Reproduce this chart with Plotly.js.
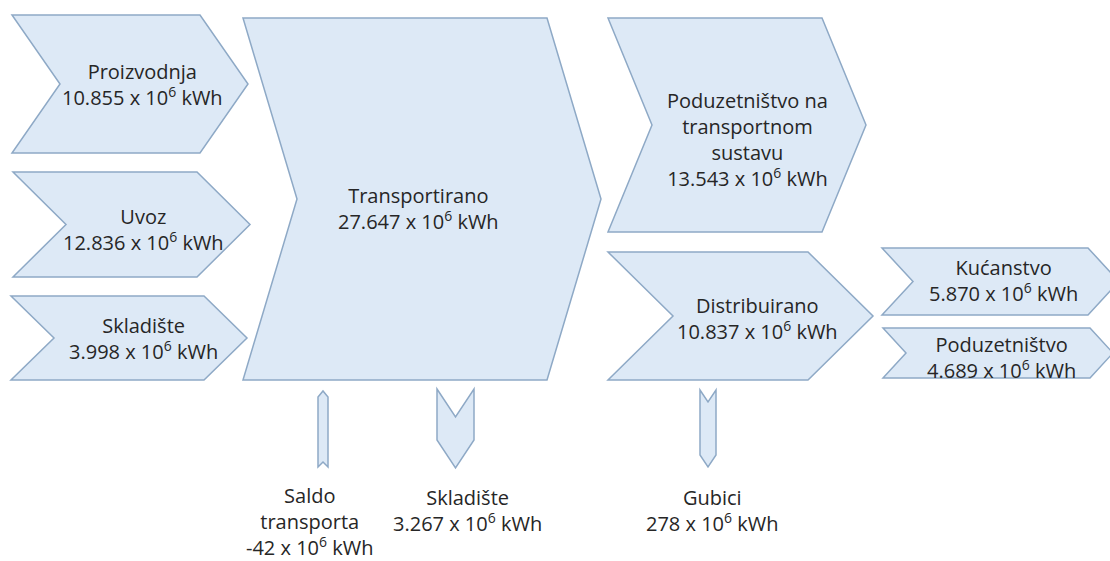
<!DOCTYPE html>
<html>
<head>
<meta charset="utf-8">
<script src="https://cdn.plot.ly/plotly-3.0.1.min.js"></script>
<style>html,body{margin:0;padding:0;background:#fff;}#chart{width:1110px;height:561px;}</style>
</head>
<body>
<div id="chart"></div>
<script>
// ---- data ----
var nodeKeys   = ["proizvodnja", "uvoz", "skladisteIn", "transportirano", "poduzetnistvoTS", "distribuirano", "kucanstvo", "poduzetnistvo", "saldo", "skladisteOut", "gubici"];
var nodeLabels = ["Proizvodnja", "Uvoz", "Skladište", "Transportirano", "Poduzetništvo na<br>transportnom<br>sustavu", "Distribuirano", "Kućanstvo", "Poduzetništvo", "Saldo<br>transporta", "Skladište", "Gubici"];
var nodeValues = [10855, 12836, 3998, 27647, 13543, 10837, 5870, 4689, -42, 3267, 278]; // x 10^6 kWh
var unitLabel  = " x 10<sup>6</sup> kWh";

// ---- layout geometry (pixel space of the diagram) ----
var geom = {
  proizvodnja:     {dir: "right", x0: 12,  x1: 200,  y0: 15,  y1: 153, d: 48, tx: 142,  ty: 84},
  uvoz:            {dir: "right", x0: 13,  x1: 197,  y0: 172, y1: 277, d: 53, tx: 143,  ty: 229},
  skladisteIn:     {dir: "right", x0: 11,  x1: 204,  y0: 296, y1: 380, d: 43, tx: 143,  ty: 338},
  transportirano:  {dir: "right", x0: 243, x1: 547,  y0: 18,  y1: 380, d: 54, tx: 418,  ty: 208},
  poduzetnistvoTS: {dir: "right", x0: 608, x1: 822,  y0: 18,  y1: 232, d: 44, tx: 747,  ty: 139},
  distribuirano:   {dir: "right", x0: 608, x1: 808,  y0: 252, y1: 380, d: 65, tx: 757,  ty: 318},
  kucanstvo:       {dir: "right", x0: 882, x1: 1088, y0: 248, y1: 315, d: 31, tx: 1003, ty: 280},
  poduzetnistvo:   {dir: "right", x0: 883, x1: 1090, y0: 328, y1: 378, d: 23, tx: 1001, ty: 357},
  saldo:           {dir: "up",    x0: 318, x1: 328,  y0: 391, y1: 467, d: 5,  tx: 310,  ty: 521},
  skladisteOut:    {dir: "down",  x0: 437, x1: 474,  y0: 389, y1: 468, d: 28, tx: 467,  ty: 510},
  gubici:          {dir: "down",  x0: 700, x1: 716,  y0: 390, y1: 467, d: 12, tx: 712,  ty: 510}
};

var FILL = "#dde9f6", EDGE = "#8ea9c6", TEXT = "#262626";

function chevronPath(g) {
  var p;
  if (g.dir === "right") {
    var ym = (g.y0 + g.y1) / 2;
    p = [[g.x0, g.y0], [g.x1, g.y0], [g.x1 + g.d, ym], [g.x1, g.y1], [g.x0, g.y1], [g.x0 + g.d, ym]];
  } else if (g.dir === "down") {
    var xm = (g.x0 + g.x1) / 2;
    p = [[g.x0, g.y0], [xm, g.y0 + g.d], [g.x1, g.y0], [g.x1, g.y1 - g.d], [xm, g.y1], [g.x0, g.y1 - g.d]];
  } else {
    var xm2 = (g.x0 + g.x1) / 2;
    p = [[g.x0, g.y0 + g.d + 1], [xm2, g.y0], [g.x1, g.y0 + g.d + 1], [g.x1, g.y1], [xm2, g.y1 - g.d], [g.x0, g.y1]];
  }
  return "M" + p.map(function (q) { return q[0] + "," + q[1]; }).join(" L") + " Z";
}

function fmt(v) {
  var s = Math.abs(v).toString().replace(/\B(?=(\d{3})+(?!\d))/g, ".");
  return (v < 0 ? "-" : "") + s;
}

var shapes = [], annotations = [];
nodeKeys.forEach(function (k, i) {
  var g = geom[k];
  shapes.push({type: "path", xref: "x", yref: "y", path: chevronPath(g),
    fillcolor: FILL, line: {color: EDGE, width: 1.5}, layer: "below"});
  annotations.push({xref: "x", yref: "y", x: g.tx, y: g.ty, xanchor: "center", yanchor: "middle",
    showarrow: false, align: "center",
    text: nodeLabels[i] + "<br>" + fmt(nodeValues[i]) + unitLabel,
    font: {family: "Open Sans, Noto Sans, sans-serif", size: 20, color: TEXT}});
});

var layout = {
  width: 1110, height: 561,
  margin: {l: 0, r: 0, t: 0, b: 0},
  paper_bgcolor: "#ffffff", plot_bgcolor: "#ffffff",
  showlegend: false,
  xaxis: {range: [0, 1110], visible: false, fixedrange: true},
  yaxis: {range: [561, 0], visible: false, fixedrange: true},
  shapes: shapes,
  annotations: annotations
};

Plotly.newPlot("chart", [{x: [], y: [], type: "scatter", mode: "markers", hoverinfo: "skip"}], layout, {displayModeBar: false, staticPlot: true});
</script>
</body>
</html>
